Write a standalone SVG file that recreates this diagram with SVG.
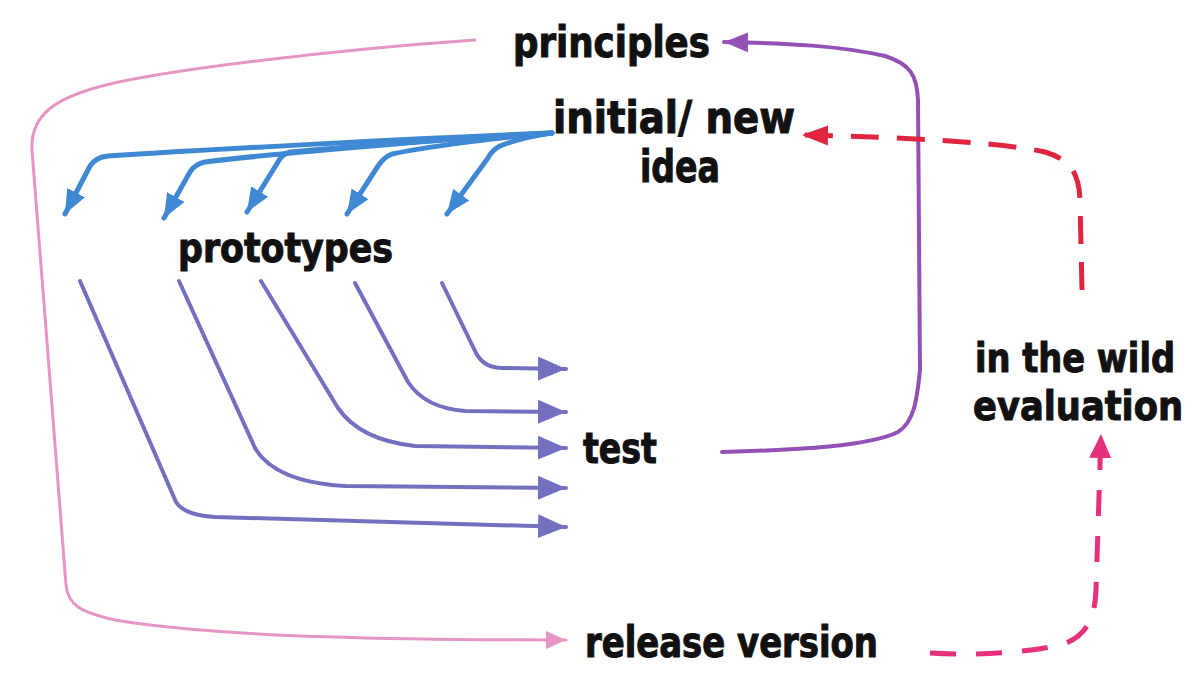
<svg xmlns="http://www.w3.org/2000/svg" width="1192" height="675" viewBox="0 0 1192 675">
<style>
.t{font-family:"Liberation Sans Narrow","DejaVu Sans Condensed","Liberation Sans",sans-serif;font-weight:bold;fill:#111;stroke:#111;stroke-width:1;}
.c{fill:none;stroke-linecap:round;stroke-linejoin:round;}
.pink{stroke:#e596c4;stroke-width:3;}
.blue{stroke:#3f88d4;stroke-width:5;}
.proto{stroke:#7470c0;stroke-width:4;}
.purple{stroke:#9350b5;stroke-width:4;}
.red{stroke:#e0263e;stroke-width:5;stroke-dasharray:28 18;stroke-linecap:butt;}
.mag{stroke:#e6307c;stroke-width:5;stroke-dasharray:26 20;stroke-linecap:butt;}
</style>
<defs>
<marker id="ap" markerUnits="userSpaceOnUse" markerWidth="30" markerHeight="26" refX="28" refY="13" orient="auto" viewBox="0 0 30 26"><path d="M0,1 L28,13 L0,25 Z" fill="#7470c0"/></marker>
<marker id="ab" markerUnits="userSpaceOnUse" markerWidth="26" markerHeight="24" refX="24" refY="12" orient="auto" viewBox="0 0 26 24"><path d="M0,2 L24,12 L0,22 Z" fill="#3f88d4"/></marker>
<marker id="apk" markerUnits="userSpaceOnUse" markerWidth="22" markerHeight="20" refX="20" refY="10" orient="auto" viewBox="0 0 22 20"><path d="M0,1 L20,10 L0,19 Z" fill="#e596c4"/></marker>
<marker id="apu" markerUnits="userSpaceOnUse" markerWidth="26" markerHeight="22" refX="24" refY="11" orient="auto" viewBox="0 0 26 22"><path d="M0,1 L24,11 L0,21 Z" fill="#9350b5"/></marker>
<marker id="ar" markerUnits="userSpaceOnUse" markerWidth="28" markerHeight="22" refX="26" refY="11" orient="auto" viewBox="0 0 28 22"><path d="M0,1 L26,11 L0,21 Z" fill="#e0263e"/></marker>
<marker id="am" markerUnits="userSpaceOnUse" markerWidth="26" markerHeight="24" refX="24" refY="12" orient="auto" viewBox="0 0 26 24"><path d="M0,1 L24,12 L0,23 Z" fill="#e6307c"/></marker>
</defs>
<rect width="1192" height="675" fill="#ffffff"/>
<g id="connectors">
<path class="c pink" marker-end="url(#apk)" d="M475,40 C330,50 170,70 110,84 C60,96 30,112 32,150 L66,585 C68,605 80,612 115,620 C220,638 420,640 566,640"/>
<path class="c blue" marker-end="url(#ab)" d="M552,133 C420,138 200,150 108,156 Q96,157 90,166 L65,214"/>
<path class="c blue" marker-end="url(#ab)" d="M552,133 C430,140 260,155 205,162 Q195,164 190,172 L164,218"/>
<path class="c blue" marker-end="url(#ab)" d="M552,133 C460,138 330,148 290,152 Q282,154 278,162 L247,212"/>
<path class="c blue" marker-end="url(#ab)" d="M552,133 C490,138 420,148 392,154 Q384,157 378,166 L347,214"/>
<path class="c blue" marker-end="url(#ab)" d="M552,133 C530,136 510,142 500,146 Q492,150 488,158 L447,214"/>
<path class="c proto" marker-end="url(#ap)" d="M442,283 L476,353 Q484,368 502,368 L566,369"/>
<path class="c proto" marker-end="url(#ap)" d="M355,283 L408,382 Q425,408 465,411 L566,412"/>
<path class="c proto" marker-end="url(#ap)" d="M261,281 L338,408 Q360,440 415,446 L566,448"/>
<path class="c proto" marker-end="url(#ap)" d="M179,281 L255,448 Q275,482 345,486 L566,488"/>
<path class="c proto" marker-end="url(#ap)" d="M80,281 L176,502 Q184,515 215,517 L566,527"/>
<path class="c purple" marker-end="url(#apu)" d="M722,452 C800,450 870,446 898,432 C914,422 917,400 920,370 L918,100 C917,75 910,64 885,56 C840,46 790,43 724,42"/>
<path class="c red" marker-end="url(#ar)" d="M1082,290 L1080,200 C1079,175 1072,160 1045,152 C1000,142 900,137 802,135"/>
<path class="c mag" marker-end="url(#am)" d="M930,653 C980,656 1030,652 1060,645 C1085,638 1095,620 1096,590 L1101,434"/>
</g>
<g id="principles"><text class="t" x="513" y="57" font-size="43" textLength="197" lengthAdjust="spacingAndGlyphs">principles</text></g>
<g id="idea"><text class="t" x="553" y="133" font-size="44" textLength="242" lengthAdjust="spacingAndGlyphs">initial/ new</text><text class="t" x="640" y="182" font-size="44" textLength="80" lengthAdjust="spacingAndGlyphs">idea</text></g>
<g id="prototypes"><text class="t" x="178" y="262" font-size="40" textLength="215" lengthAdjust="spacingAndGlyphs">prototypes</text></g>
<g id="test"><text class="t" x="583" y="463" font-size="42" textLength="74" lengthAdjust="spacingAndGlyphs">test</text></g>
<g id="wild"><text class="t" x="975" y="372" font-size="41" textLength="200" lengthAdjust="spacingAndGlyphs">in the wild</text><text class="t" x="973" y="420" font-size="41" textLength="210" lengthAdjust="spacingAndGlyphs">evaluation</text></g>
<g id="release"><text class="t" x="585" y="657" font-size="42" textLength="293" lengthAdjust="spacingAndGlyphs">release version</text></g>
</svg>
